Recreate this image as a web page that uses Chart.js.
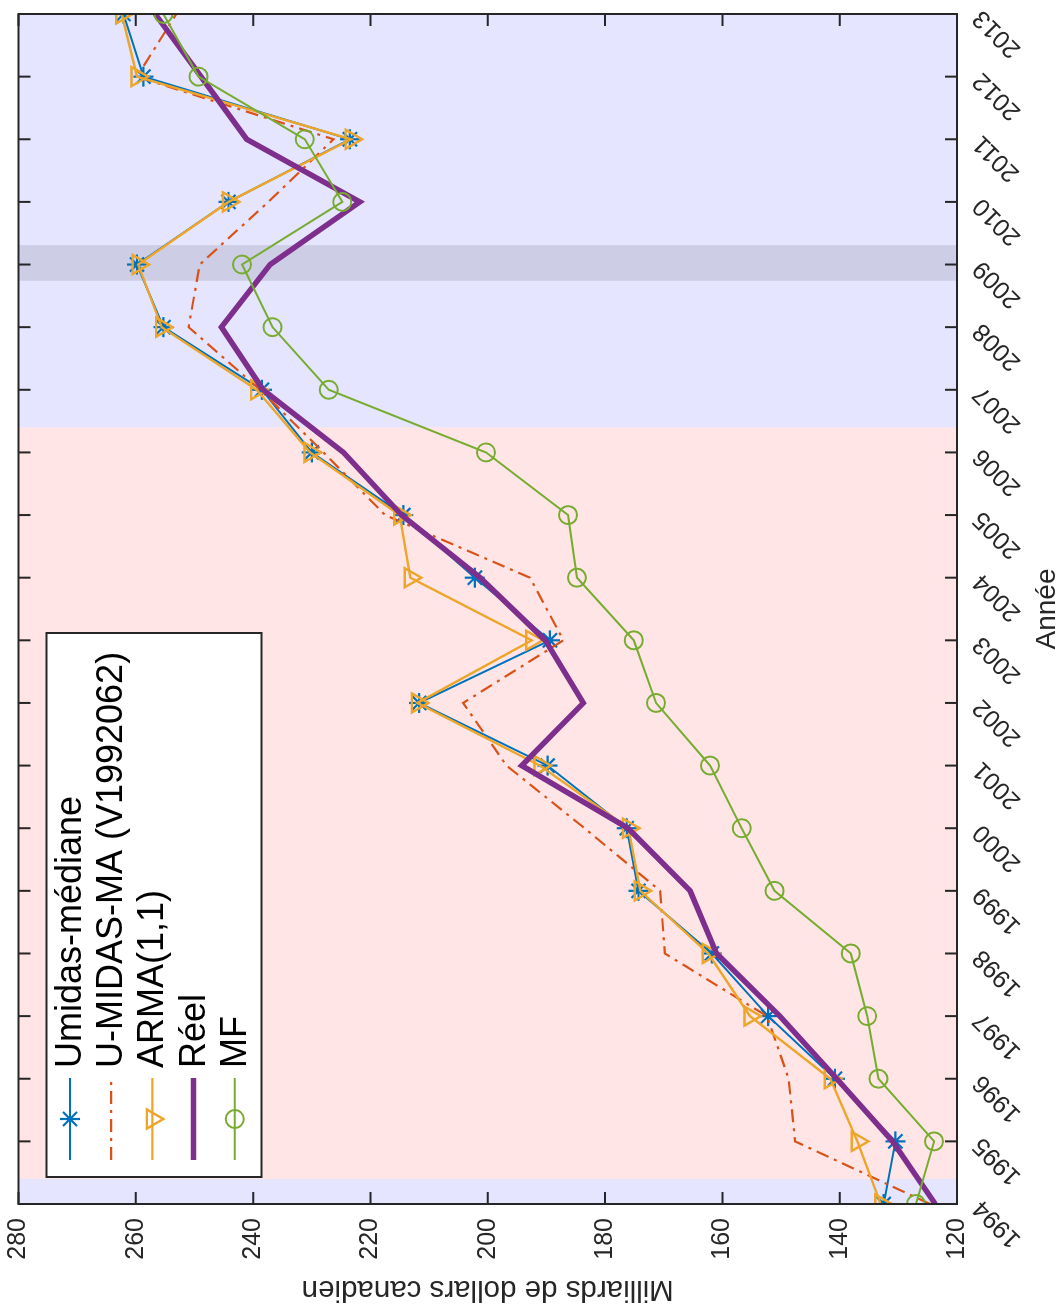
<!DOCTYPE html>
<html>
<head>
<meta charset="utf-8">
<script src="https://cdn.jsdelivr.net/npm/chart.js@4.4.1/dist/chart.umd.min.js"></script>
<style>
  html, body { margin: 0; padding: 0; background: #ffffff; }
  body { width: 1064px; height: 1308px; overflow: hidden; position: relative; }
  /* the figure is laid out landscape and turned a quarter turn counter-clockwise */
  #frame {
    position: absolute; left: 0; top: 0;
    width: 1308px; height: 1064px;
    transform-origin: 0 0;
    transform: translate(0, 1308px) rotate(-90deg);
  }
  canvas { display: block; }
</style>
</head>
<body>
<div id="frame"><canvas id="chart" width="1308" height="1064"></canvas></div>
<script>
// ---- data -----------------------------------------------------------------
const years = [1994, 1995, 1996, 1997, 1998, 1999, 2000, 2001, 2002, 2003,
               2004, 2005, 2006, 2007, 2008, 2009, 2010, 2011, 2012, 2013];

const umidasMediane = [132.5, 130.5, 140.8, 152.2, 161.8, 174.3, 176.3, 189.8, 211.7, 189.4,
                       202.2, 214.4, 230.0, 238.5, 255.3, 259.8, 244.2, 223.5, 258.7, 262.1];
const uMidasMA      = [124.6, 147.6, 148.7, 152.4, 169.8, 170.6, 183.5, 196.8, 204.2, 187.1,
                       192.8, 217.5, 228.0, 238.8, 251.0, 249.1, 237.4, 226.3, 259.8, 253.1];
const arma11        = [133.0, 137.0, 141.6, 155.3, 162.4, 174.0, 176.0, 191.1, 212.0, 192.5,
                       213.2, 215.0, 230.3, 239.4, 255.6, 259.6, 244.2, 223.3, 259.8, 262.4];
const reel          = [123.7, 131.0, 140.5, 150.2, 161.0, 165.5, 176.1, 194.2, 183.7, 190.2,
                       201.3, 214.7, 224.6, 238.3, 245.4, 237.1, 221.8, 241.1, 248.9, 256.7];
const mf            = [127.0, 123.9, 133.4, 135.3, 138.1, 151.1, 156.7, 162.1, 171.3, 175.1,
                       184.8, 186.3, 200.3, 227.1, 236.7, 241.9, 224.8, 231.2, 249.3, 255.3];

const seriesNames = ['Umidas-médiane', 'U-MIDAS-MA (V1992062)', 'ARMA(1,1)', 'Réel', 'MF'];

// value axis
const valueMin = 120, valueMax = 280, valueStep = 20;
// shaded periods on the year axis
const periodStarts = [1994, 1994.4, 2006.4];
const periodEnds   = [1994.4, 2006.4, 2013];
const periodKinds  = ['blue', 'pink', 'blue'];
const bandStart = 2008.74, bandEnd = 2009.31;

// ---- styling --------------------------------------------------------------
const FONT = "'Liberation Sans', Arial, Helvetica, sans-serif";
const AXIS_COLOR = '#262626';
const periodFill = { blue: 'rgba(0,0,255,0.10)', pink: 'rgba(255,0,0,0.10)' };

function toPoints(values) {
  return years.map((yr, i) => ({ x: yr, y: values[i] }));
}

const datasets = [
  { label: seriesNames[0], data: toPoints(umidasMediane), borderColor: '#0072BD',
    borderWidth: 2, pointStyle: 'star', pointRadius: 10, pointBorderWidth: 2.2,
    pointBackgroundColor: 'rgba(0,0,0,0)', pointBorderColor: '#0072BD', order: 5 },
  { label: seriesNames[1], data: toPoints(uMidasMA), borderColor: '#D95319',
    borderWidth: 2.2, borderDash: [13, 6, 3, 6], pointRadius: 0, order: 4 },
  { label: seriesNames[2], data: toPoints(arma11), borderColor: '#EDA52A',
    borderWidth: 2.4, pointStyle: 'triangle', pointRotation: 180, pointRadius: 11,
    pointBorderWidth: 2.4, pointBackgroundColor: 'rgba(0,0,0,0)', pointBorderColor: '#EDA52A', order: 3 },
  { label: seriesNames[3], data: toPoints(reel), borderColor: '#7E2F8E',
    borderWidth: 5.5, pointRadius: 0, order: 2 },
  { label: seriesNames[4], data: toPoints(mf), borderColor: '#77AC30',
    borderWidth: 2, pointStyle: 'circle', pointRadius: 9, pointBorderWidth: 2,
    pointBackgroundColor: 'rgba(0,0,0,0)', pointBorderColor: '#77AC30', order: 1 }
];
datasets.forEach(d => { d.fill = false; d.tension = 0; d.backgroundColor = 'rgba(0,0,0,0)'; });

// shaded periods behind the series
const periodShading = {
  id: 'periodShading',
  beforeDatasetsDraw(chart) {
    const { ctx, chartArea: a, scales: { x } } = chart;
    ctx.save();
    ctx.fillStyle = '#ffffff';
    ctx.fillRect(a.left, a.top, a.right - a.left, a.bottom - a.top);
    periodStarts.forEach((s, i) => {
      const x0 = x.getPixelForValue(s), x1 = x.getPixelForValue(periodEnds[i]);
      ctx.fillStyle = periodFill[periodKinds[i]];
      ctx.fillRect(x0, a.top, x1 - x0, a.bottom - a.top);
    });
    const b0 = x.getPixelForValue(bandStart), b1 = x.getPixelForValue(bandEnd);
    ctx.fillStyle = 'rgba(0,0,0,0.10)';
    ctx.fillRect(b0, a.top, b1 - b0, a.bottom - a.top);
    ctx.restore();
  }
};

// box around the plot with inward tick marks on all four sides
const boxTicks = {
  id: 'boxTicks',
  afterDatasetsDraw(chart) {
    const { ctx, chartArea: a, scales: { x, y } } = chart;
    const len = 12;
    ctx.save();
    ctx.strokeStyle = AXIS_COLOR;
    ctx.lineWidth = 2;
    ctx.beginPath();
    x.ticks.forEach(t => {
      const px = x.getPixelForValue(t.value);
      ctx.moveTo(px, a.bottom); ctx.lineTo(px, a.bottom - len);
      ctx.moveTo(px, a.top);    ctx.lineTo(px, a.top + len);
    });
    y.ticks.forEach(t => {
      const py = y.getPixelForValue(t.value);
      ctx.moveTo(a.left, py);  ctx.lineTo(a.left + len, py);
      ctx.moveTo(a.right, py); ctx.lineTo(a.right - len, py);
    });
    ctx.stroke();
    ctx.strokeRect(a.left, a.top, a.right - a.left, a.bottom - a.top);
    ctx.restore();
  }
};

// legend box in the upper left corner of the plot
const boxLegend = {
  id: 'boxLegend',
  afterDraw(chart) {
    const { ctx, chartArea: a } = chart;
    const left = a.left + 27, top = a.top + 28, width = 544, height = 215;
    const rowStep = 41.2, firstRow = 23.5;
    const lineX0 = left + 17, lineX1 = left + 99, textX = left + 109;
    ctx.save();
    ctx.fillStyle = '#ffffff';
    ctx.fillRect(left, top, width, height);
    ctx.strokeStyle = AXIS_COLOR;
    ctx.lineWidth = 2;
    ctx.strokeRect(left, top, width, height);
    chart.data.datasets.forEach((ds, i) => {
      const cy = top + firstRow + i * rowStep;
      ctx.save();
      ctx.strokeStyle = ds.borderColor;
      ctx.lineWidth = ds.borderWidth;
      ctx.setLineDash(ds.borderDash || []);
      ctx.beginPath();
      ctx.moveTo(lineX0, cy); ctx.lineTo(lineX1, cy);
      ctx.stroke();
      ctx.setLineDash([]);
      if (ds.pointRadius > 0) {
        ctx.fillStyle = 'rgba(0,0,0,0)';
        ctx.lineWidth = ds.pointBorderWidth;
        Chart.helpers.drawPoint(ctx, {
          pointStyle: ds.pointStyle, rotation: ds.pointRotation || 0,
          radius: ds.pointRadius, borderWidth: ds.pointBorderWidth
        }, (lineX0 + lineX1) / 2, cy);
      }
      ctx.restore();
      ctx.fillStyle = '#000000';
      ctx.font = '36px ' + FONT;
      ctx.textBaseline = 'middle';
      ctx.textAlign = 'left';
      ctx.fillText(ds.label, textX, cy + 1);
    });
    ctx.restore();
  }
};

new Chart(document.getElementById('chart'), {
  type: 'line',
  data: { datasets },
  options: {
    responsive: false,
    animation: false,
    devicePixelRatio: 1,
    events: [],
    layout: { padding: { top: 18.5, right: 14, left: 0, bottom: 0 } },
    plugins: { legend: { display: false }, tooltip: { enabled: false } },
    scales: {
      x: {
        type: 'linear',
        min: years[0], max: years[years.length - 1],
        grid: { display: false, drawTicks: false },
        border: { display: false },
        ticks: {
          stepSize: 1, maxTicksLimit: 40, autoSkip: false,
          minRotation: 45, maxRotation: 45, padding: 10,
          color: AXIS_COLOR, font: { family: FONT, size: 25 },
          callback: v => String(v)
        },
        title: {
          display: true, text: 'Année', color: AXIS_COLOR,
          font: { family: FONT, size: 28 }, padding: { top: 0, bottom: 0 }
        },
        afterFit(scale) { scale.height = 107; scale.paddingLeft = 0; scale.paddingRight = 0; }
      },
      y: {
        type: 'linear',
        min: valueMin, max: valueMax,
        grid: { display: false, drawTicks: false },
        border: { display: false },
        ticks: {
          stepSize: valueStep, padding: 14,
          color: AXIS_COLOR, font: { family: FONT, size: 25 }
        },
        title: {
          display: true, text: 'Milliards de dollars canadien', color: AXIS_COLOR,
          font: { family: FONT, size: 29.5 }, padding: { top: 1, bottom: 0 }
        },
        afterFit(scale) { scale.width = 104; scale.paddingTop = 0; scale.paddingBottom = 0; }
      }
    }
  },
  plugins: [periodShading, boxTicks, boxLegend]
});
</script>
</body>
</html>
